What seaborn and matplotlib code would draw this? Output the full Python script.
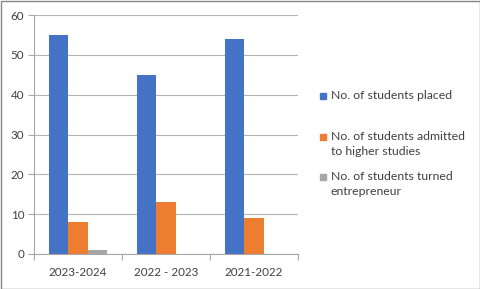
import matplotlib
matplotlib.use("Agg")
import matplotlib.pyplot as plt
from matplotlib.patches import Rectangle
import seaborn as sns
import pandas as pd

years = ["2023-2024", "2022 - 2023", "2021-2022"]
series_names = ["No. of students placed",
                "No. of students admitted to higher studies",
                "No. of students turned entrepreneur"]
legend_labels = ["No. of students placed",
                 "No. of students admitted\nto higher studies",
                 "No. of students turned\nentrepreneur"]
placed = [55, 45, 54]
higher = [8, 13, 9]
entre = [1, 0, 0]
colors = ["#4472C4", "#ED7D31", "#A5A5A5"]

rows = []
for vals, name in zip([placed, higher, entre], series_names):
    for y, v in zip(years, vals):
        rows.append({"year": y, "series": name, "value": v})
df = pd.DataFrame(rows)

sns.set_theme(style="white")
plt.rcParams["font.family"] = ["Lato", "DejaVu Sans"]

line_c = "#a6a6a6"
grid_c = "#b4b4b4"
fig = plt.figure(figsize=(4.81, 2.89), dpi=100)
ax = fig.add_axes([34/481, 1-254/289, (298-34)/481, (254-15)/289])
sns.barplot(data=df, x="year", y="value", hue="series", hue_order=series_names,
            order=years, palette=colors, width=0.667, gap=0, ax=ax,
            saturation=1, errorbar=None, legend=False, linewidth=0)

ax.set_xlim(-0.5, 2.5)
ax.set_ylim(0, 60)
ax.set_yticks(range(0, 61, 10))
ax.set_xlabel("")
ax.set_ylabel("")
ax.grid(axis="y", color=grid_c, linewidth=0.8)
ax.set_axisbelow(True)
for s in ["right", "top"]:
    ax.spines[s].set_visible(False)
for s in ["left", "bottom"]:
    ax.spines[s].set_color(line_c)
    ax.spines[s].set_linewidth(0.8)
ax.tick_params(axis="y", length=4, width=0.8, color=line_c, labelsize=8.4, labelcolor="#404040", pad=3, left=True)
ax.set_xticks([0, 1, 2])
ax.set_xticks([-0.5, 0.5, 1.5, 2.5], minor=True)
ax.tick_params(axis="x", which="major", length=0, labelsize=8.4, labelcolor="#404040", pad=9)
ax.tick_params(axis="x", which="minor", length=4, width=0.8, color=line_c, bottom=True)

# legend
ys = [96, 137, 177]
for lab, c, y in zip(legend_labels, colors, ys):
    fig.patches.append(Rectangle((320/481, 1-(y+3)/289), 6/481, 6/289,
                                 transform=fig.transFigure, color=c, figure=fig))
    fig.text(331/481, 1-(y-6)/289, lab, fontsize=8.8, color="#404040",
             va="top", ha="left", linespacing=1.4)

fig.patches.append(Rectangle((0.5/481, 0.5/289), 1-1/481, 1-1/289, transform=fig.transFigure,
                             fill=False, edgecolor="#868686", linewidth=1, figure=fig))
fig.savefig("out.png", dpi=100)
